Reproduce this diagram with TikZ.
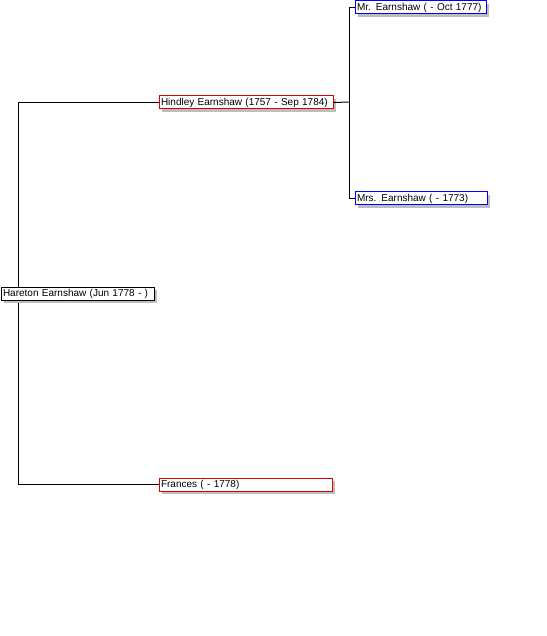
\documentclass[tikz,border=0pt]{standalone}
\usepackage{fontspec}
\setmainfont{Liberation Sans}
\usetikzlibrary{shadows}
\definecolor{boxred}{RGB}{221,0,0}
\definecolor{boxblue}{RGB}{0,0,255}
\definecolor{shadowgray}{RGB}{190,190,190}
\begin{document}
\begin{tikzpicture}[x=1pt,y=-1pt,
  person/.style={draw, line width=1pt, fill=white, anchor=north west,
    minimum height=13pt, inner ysep=0pt, inner xsep=2pt, align=left,
    font=\fontsize{10}{11}\selectfont, text height=7.5pt, text depth=2pt,
    drop shadow={shadow xshift=3pt, shadow yshift=-3pt, opacity=1, fill=shadowgray}},
  conn/.style={line width=1pt, line cap=rect}]
\useasboundingbox (0,0) rectangle (546,636);
\coordinate (hx) at (18.5,293);
\coordinate (rx) at (349.5,102);
\node[person, draw=boxblue, text width=127pt] (mr) at (354.5,0.5) {Mr. Earnshaw ( - Oct 1777)};
\node[person, draw=boxblue, text width=128pt] (mrs) at (354.5,191.5) {Mrs. Earnshaw ( - 1773)};
\node[person, draw=boxred, text width=170pt] (hindley) at (158.5,95.5) {Hindley Earnshaw (1757 - Sep 1784)};
\node[person, draw=boxred, text width=169pt] (frances) at (158.5,477.5) {Frances ( - 1778)};
\draw[conn] (hx) |- (hindley.west);
\draw[conn] (hx) |- (frances.west);
\draw[conn] (hindley.east) -- (rx);
\draw[conn] (rx) |- (mr.west);
\draw[conn] (rx) |- (mrs.west);
\node[person, draw=black, text width=149pt] (hareton) at (0.5,286.5) {Hareton Earnshaw (Jun 1778 - )};
\end{tikzpicture}
\end{document}
